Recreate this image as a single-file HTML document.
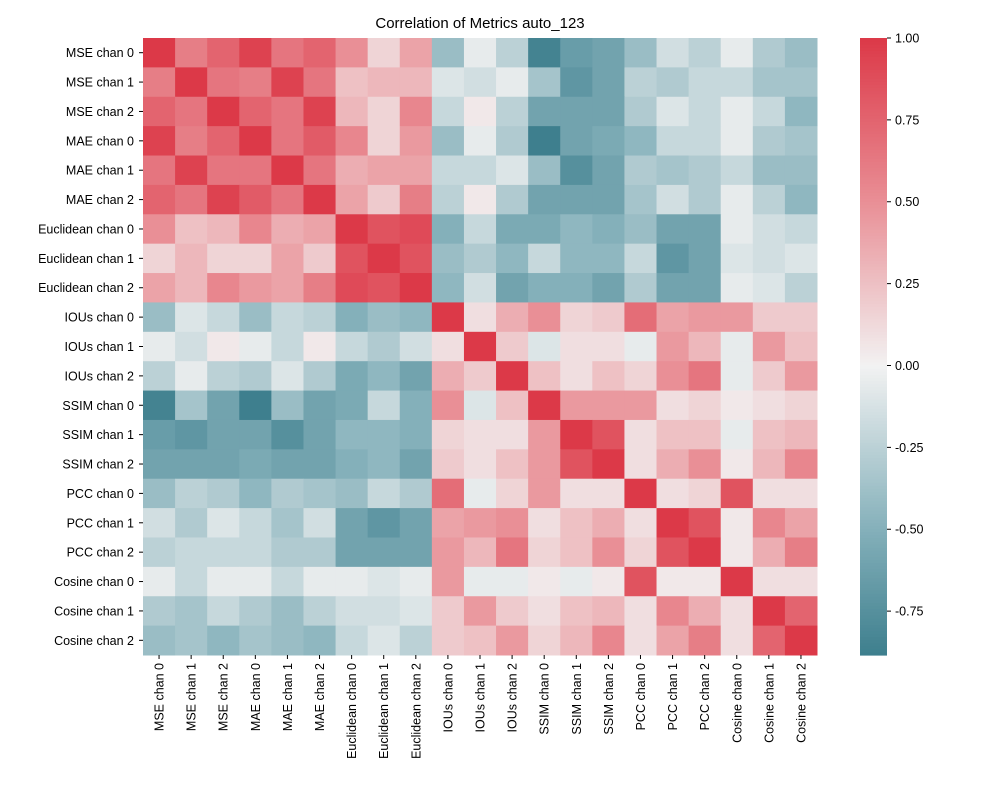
<!DOCTYPE html>
<html><head><meta charset="utf-8"><style>
body{margin:0;background:#fff;}
svg{font-family:"Liberation Sans","DejaVu Sans",sans-serif;}
</style></head><body>
<svg id="chart" width="1000" height="800" viewBox="0 0 1000 800" xmlns="http://www.w3.org/2000/svg">
<rect width="1000" height="800" fill="#fff"/>
<text x="480" y="28" text-anchor="middle" font-size="15">Correlation of Metrics auto_123</text>
<g id="cells"></g><g id="ylabels"></g><g id="xlabels"></g><g id="cbar"></g>
</svg>
<script>
const labels=["MSE chan 0","MSE chan 1","MSE chan 2","MAE chan 0","MAE chan 1","MAE chan 2","Euclidean chan 0","Euclidean chan 1","Euclidean chan 2","IOUs chan 0","IOUs chan 1","IOUs chan 2","SSIM chan 0","SSIM chan 1","SSIM chan 2","PCC chan 0","PCC chan 1","PCC chan 2","Cosine chan 0","Cosine chan 1","Cosine chan 2"];
const colorbarTicks=[1.0,0.75,0.5,0.25,0.0,-0.25,-0.5,-0.75];
const matrix=[
[1,.6,.75,.95,.65,.75,.5,.15,.4,-.4,-.05,-.25,-.85,-.65,-.6,-.4,-.15,-.25,-.05,-.3,-.4],
[.6,1,.65,.6,.95,.65,.25,.3,.3,-.1,-.15,-.05,-.35,-.7,-.6,-.25,-.3,-.2,-.2,-.35,-.35],
[.75,.65,1,.75,.65,.95,.3,.15,.55,-.2,.05,-.25,-.6,-.6,-.6,-.3,-.1,-.2,-.05,-.2,-.45],
[.95,.6,.75,1,.65,.8,.55,.15,.45,-.4,-.05,-.3,-.88,-.6,-.55,-.45,-.2,-.2,-.05,-.3,-.35],
[.65,.95,.65,.65,1,.65,.35,.4,.4,-.2,-.2,-.1,-.4,-.75,-.6,-.3,-.35,-.3,-.2,-.4,-.4],
[.75,.65,.95,.8,.65,1,.4,.2,.6,-.25,.05,-.3,-.6,-.6,-.6,-.35,-.15,-.3,-.05,-.25,-.45],
[.5,.25,.3,.55,.35,.4,1,.85,.9,-.5,-.2,-.55,-.55,-.45,-.5,-.4,-.6,-.6,-.05,-.15,-.2],
[.15,.3,.15,.15,.4,.2,.85,1,.85,-.4,-.3,-.45,-.2,-.45,-.45,-.2,-.7,-.6,-.1,-.15,-.1],
[.4,.3,.55,.45,.4,.6,.9,.85,1,-.45,-.15,-.6,-.5,-.5,-.6,-.3,-.6,-.6,-.05,-.1,-.25],
[-.4,-.1,-.2,-.4,-.2,-.25,-.5,-.4,-.45,1,.1,.35,.5,.15,.2,.7,.4,.45,.45,.2,.2],
[-.05,-.15,.05,-.05,-.2,.05,-.2,-.3,-.15,.1,1,.2,-.1,.1,.1,-.05,.45,.3,-.05,.45,.25],
[-.25,-.05,-.25,-.3,-.1,-.3,-.55,-.45,-.6,.35,.2,1,.25,.1,.25,.15,.5,.65,-.05,.2,.45],
[-.85,-.35,-.6,-.88,-.4,-.6,-.55,-.2,-.5,.5,-.1,.25,1,.45,.45,.45,.1,.15,.05,.1,.15],
[-.65,-.7,-.6,-.6,-.75,-.6,-.45,-.45,-.5,.15,.1,.1,.45,1,.85,.1,.25,.25,-.05,.25,.3],
[-.6,-.6,-.6,-.55,-.6,-.6,-.5,-.45,-.6,.2,.1,.25,.45,.85,1,.1,.35,.5,.05,.3,.55],
[-.4,-.25,-.3,-.45,-.3,-.35,-.4,-.2,-.3,.7,-.05,.15,.45,.1,.1,1,.1,.15,.85,.1,.1],
[-.15,-.3,-.1,-.2,-.35,-.15,-.6,-.7,-.6,.4,.45,.5,.1,.25,.35,.1,1,.85,.05,.55,.4],
[-.25,-.2,-.2,-.2,-.3,-.3,-.6,-.6,-.6,.45,.3,.65,.15,.25,.5,.15,.85,1,.05,.35,.6],
[-.05,-.2,-.05,-.05,-.2,-.05,-.05,-.1,-.05,.45,-.05,-.05,.05,-.05,.05,.85,.05,.05,1,.1,.1],
[-.3,-.35,-.2,-.3,-.4,-.25,-.15,-.15,-.1,.2,.45,.2,.1,.25,.3,.1,.55,.35,.1,1,.75],
[-.4,-.35,-.45,-.35,-.4,-.45,-.2,-.1,-.25,.2,.25,.45,.15,.3,.55,.1,.4,.6,.1,.75,1]
];
const vmin=-0.884,vmax=1.0;
const X0=143,X1=817,Y0=38,Y1=655;
const n=labels.length,cw=(X1-X0)/n,ch=(Y1-Y0)/n;
const xPos=i=>X0+i*cw, yPos=i=>Y0+i*ch;
const lo=[40,112,128],loMid=[132,176,186],mid=[242,242,242],hiMid=[233,143,150],hi=[220,57,72];
function lerp(a,b,t){return a.map((c,k)=>c+(b[k]-c)*t);}
function color(v){let c;
 if(v<0){const t=Math.min(1,-v);c=t<0.5?lerp(mid,loMid,t/0.5):lerp(loMid,lo,(t-0.5)/0.5);}
 else{const t=Math.min(1,v);c=t<0.5?lerp(mid,hiMid,t/0.5):lerp(hiMid,hi,(t-0.5)/0.5);}
 return `rgb(${c.map(Math.round).join(',')})`;}
const NS="http://www.w3.org/2000/svg";
function mk(tag,attrs,parent){const e=document.createElementNS(NS,tag);for(const k in attrs)e.setAttribute(k,attrs[k]);parent.appendChild(e);return e;}
const cells=document.getElementById('cells');
matrix.forEach((row,r)=>row.forEach((v,c)=>{
 const e=mk('rect',{x:xPos(c),y:yPos(r),width:cw+0.5,height:ch+0.5,fill:color(v)},cells);
 
 
}));
const yl=document.getElementById('ylabels'),xl=document.getElementById('xlabels');
labels.forEach((l,i)=>{
 const t=mk('text',{x:X0-9,y:yPos(i)+ch/2+4.5,'text-anchor':'end','font-size':12.5},yl);t.textContent=l;
 
 
 mk('line',{x1:X0-4,x2:X0,y1:yPos(i)+ch/2,y2:yPos(i)+ch/2,stroke:'#000'},yl);
 const cx=xPos(i)+cw/2;
 mk('line',{x1:cx,x2:cx,y1:Y1,y2:Y1+4,stroke:'#000'},xl);
 const u=mk('text',{x:0,y:0,'text-anchor':'end','font-size':12.5,transform:`translate(${cx+4.5},${Y1+8}) rotate(-90)`},xl);u.textContent=l;
 
 
});
const cb=document.getElementById('cbar');
const CBX=860,CBW=27;
const cy=v=>Y1-(v-vmin)/(vmax-vmin)*(Y1-Y0);
for(let k=0;k<200;k++){const v0=vmin+(vmax-vmin)*k/200,v1=vmin+(vmax-vmin)*(k+1)/200;
 mk('rect',{x:CBX,y:cy(v1),width:CBW,height:cy(v0)-cy(v1)+0.6,fill:color((v0+v1)/2)},cb);}


colorbarTicks.forEach(v=>{
 mk('line',{x1:CBX+CBW,x2:CBX+CBW+4,y1:cy(v),y2:cy(v),stroke:'#000'},cb);
 const t=mk('text',{x:CBX+CBW+8,y:cy(v)+4.5,'font-size':12.5},cb);t.textContent=v.toFixed(2);
 
 
});
</script>
</body></html>
